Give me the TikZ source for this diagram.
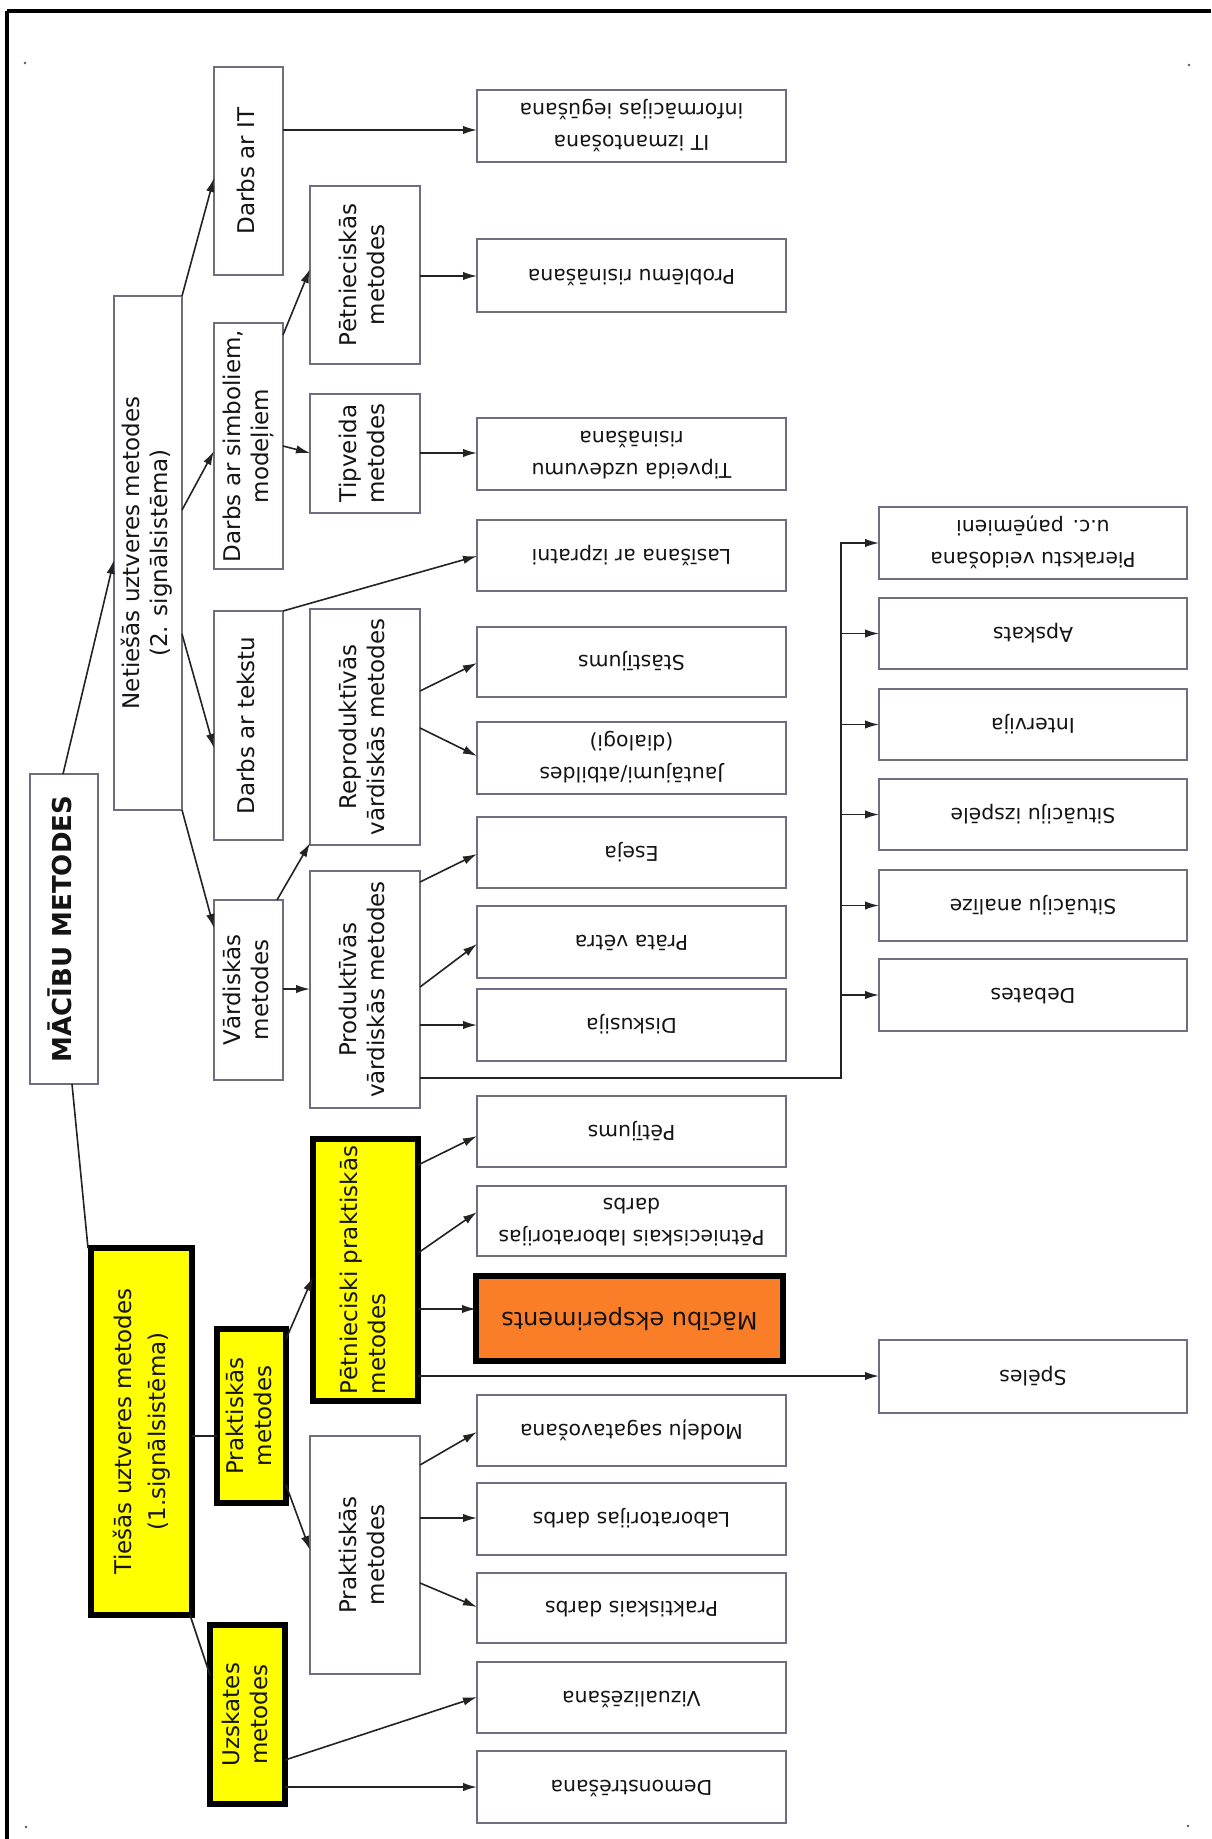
\documentclass[tikz,border=0pt]{standalone}
\usepackage{fontspec}
\setmainfont{DejaVu Sans}
\usepackage{graphicx}
\usetikzlibrary{arrows.meta}
\definecolor{bordc}{RGB}{110,110,128}
\definecolor{linec}{RGB}{35,35,35}
\definecolor{yel}{RGB}{255,255,0}
\definecolor{orng}{RGB}{250,125,40}
\definecolor{txtc}{RGB}{20,20,20}
\newcommand\lt[1]{\rotatebox{90}{\begin{tabular}{@{}c@{}}#1\end{tabular}}}
\newcommand\ltl[1]{\rotatebox{90}{\begin{tabular}{@{}l@{}}#1\end{tabular}}}
\newcommand\rt[1]{\rotatebox{180}{\begin{tabular}{@{}c@{}}#1\end{tabular}}}
\newcommand\mybox[7]{\node[#6, minimum width={(#4-#2)*0.5pt}, minimum height={(#5-#3)*0.5pt}] (#1) at ({(#2+#4)/2},{(#3+#5)/2}) {#7};}
\tikzset{
  wbox/.style={draw=bordc, line width=0.9pt, fill=white, inner sep=0pt, outer sep=0pt, text=txtc},
  ybox/.style={draw=black, line width=2.6pt, fill=yel, inner sep=0pt, outer sep=0pt, text=txtc},
  obox/.style={draw=black, line width=2.6pt, fill=orng, inner sep=0pt, outer sep=0pt, text=txtc},
  lfont/.style={font=\fontsize{11.5}{14}\selectfont},
  rfont/.style={font=\fontsize{10.2}{16}\selectfont},
  arr/.style={draw=linec, line width=0.8pt, -{Latex[length=7pt,width=4.2pt]}},
  ln/.style={draw=linec, line width=0.8pt},
}
\begin{document}
\begin{tikzpicture}[x=0.5pt,y=-0.5pt]
\useasboundingbox (0,0) rectangle (1211,1839);
\fill[white] (0,0) rectangle (1211,1839);
% frame (top and left)
\draw[line width=2pt] (7,11) -- (1211,11);
\draw[line width=2pt] (7,11) -- (7,1839);
\foreach \p in {(25,63),(1189,65),(1188,1826),(26,1827)} \fill[gray!70!black] \p circle[radius=0.7pt];

% left (rotated) nodes
\mybox{mm}{30}{774}{98}{1084}{wbox,font=\fontsize{13}{15}\selectfont\bfseries}{\lt{MĀCĪBU METODES}}
\mybox{net}{114}{296}{182}{810}{wbox,lfont}{\lt{Netiešās uztveres metodes\\(2. signālsistēma)}}
\mybox{it}{214}{67}{283}{275}{wbox,lfont}{\lt{Darbs ar IT}}
\mybox{sim}{214}{323}{283}{569}{wbox,lfont}{\lt{Darbs ar simboliem,\\modeļiem}}
\mybox{tek}{214}{611}{283}{840}{wbox,lfont}{\lt{Darbs ar tekstu}}
\mybox{var}{214}{900}{283}{1080}{wbox,lfont}{\lt{Vārdiskās\\metodes}}
\mybox{pet}{310}{186}{420}{364}{wbox,lfont}{\lt{Pētnieciskās\\metodes}}
\mybox{tip}{310}{394}{420}{513}{wbox,lfont}{\lt{Tipveida\\metodes}}
\mybox{rep}{310}{609}{420}{845}{wbox,lfont}{\lt{Reproduktīvās\\vārdiskās metodes}}
\mybox{pro}{310}{871}{420}{1108}{wbox,lfont}{\lt{Produktīvās\\vārdiskās metodes}}
\mybox{tie}{91}{1248}{192}{1615}{ybox,font=\fontsize{11.5}{17}\selectfont}{\lt{Tiešās uztveres metodes\\(1.signālsistēma)}}
\mybox{prY}{217}{1329}{286}{1503}{ybox,lfont}{\lt{Praktiskās\\metodes}}
\mybox{ppr}{313}{1139}{418}{1401}{ybox,lfont}{\ltl{Pētnieciski praktiskās\\metodes}}
\mybox{prW}{310}{1436}{420}{1674}{wbox,lfont}{\lt{Praktiskās\\metodes}}
\mybox{uzs}{210}{1625}{285}{1804}{ybox,lfont}{\lt{Uzskates\\metodes}}

% right (upside-down) nodes
\mybox{itz}{477}{90}{786}{162}{wbox,rfont}{\rt{IT izmantošana\\informācijas iegūšana}}
\mybox{prob}{477}{239}{786}{312}{wbox,rfont}{\rt{Problēmu risināšana}}
\mybox{tipu}{477}{418}{786}{490}{wbox,rfont}{\rt{Tipveida uzdevumu\\risināšana}}
\mybox{las}{477}{520}{786}{591}{wbox,rfont}{\rt{Lasīšana ar izpratni}}
\mybox{sta}{477}{627}{786}{697}{wbox,rfont}{\rt{Stāstījums}}
\mybox{jau}{477}{722}{786}{794}{wbox,rfont}{\rt{Jautājumi/atbildes\\(dialogi)}}
\mybox{ese}{477}{817}{786}{888}{wbox,rfont}{\rt{Eseja}}
\mybox{pv}{477}{906}{786}{978}{wbox,rfont}{\rt{Prāta vētra}}
\mybox{dis}{477}{989}{786}{1061}{wbox,rfont}{\rt{Diskusija}}
\mybox{ptj}{477}{1096}{786}{1167}{wbox,rfont}{\rt{Pētījums}}
\mybox{pld}{477}{1186}{786}{1256}{wbox,rfont}{\rt{Pētnieciskais laboratorijas\\darbs}}
\mybox{me}{476}{1276}{783}{1361}{obox,font=\fontsize{12}{14}\selectfont}{\rt{Mācību eksperiments}}
\mybox{mod}{477}{1395}{786}{1466}{wbox,rfont}{\rt{Modeļu sagatavošana}}
\mybox{lab}{477}{1483}{786}{1555}{wbox,rfont}{\rt{Laboratorijas darbs}}
\mybox{pd}{477}{1573}{786}{1643}{wbox,rfont}{\rt{Praktiskais darbs}}
\mybox{viz}{477}{1662}{786}{1733}{wbox,rfont}{\rt{Vizualizēšana}}
\mybox{dem}{477}{1751}{786}{1823}{wbox,rfont}{\rt{Demonstrēšana}}
\mybox{pier}{879}{507}{1187}{579}{wbox,rfont}{\rt{Pierakstu veidošana\\u.c. paņēmieni}}
\mybox{aps}{879}{598}{1187}{669}{wbox,rfont}{\rt{Apskats}}
\mybox{int}{879}{689}{1187}{760}{wbox,rfont}{\rt{Intervija}}
\mybox{siz}{879}{779}{1187}{850}{wbox,rfont}{\rt{Situāciju izspēle}}
\mybox{san}{879}{870}{1187}{941}{wbox,rfont}{\rt{Situāciju analīze}}
\mybox{deb}{879}{959}{1187}{1031}{wbox,rfont}{\rt{Debates}}
\mybox{spe}{879}{1340}{1187}{1413}{wbox,rfont}{\rt{Spēles}}

% connectors
\draw[arr] (mm.north -| 63,0) -- (net.west |- 0,560);
\draw[ln] (mm.south -| 72,0) -- (tie.north -| 88,0);
\draw[arr] (net.north east) -- (it.west |- 0,178);
\draw[arr] (net.east |- 0,510) -- (sim.west |- 0,451);
\draw[arr] (net.east |- 0,634) -- (tek.west |- 0,748);
\draw[arr] (net.south east) -- (var.west |- 0,928);
\draw[arr] (it.east |- 0,130) -- (itz.west |- 0,130);
\draw[arr] (sim.east |- 0,335) -- (pet.west |- 0,269);
\draw[arr] (sim.east |- 0,446) -- (tip.west |- 0,453);
\draw[arr] (tek.north east) -- (las.west |- 0,556);
\draw[arr] (pet.east |- 0,276) -- (prob.west |- 0,276);
\draw[arr] (tip.east |- 0,453) -- (tipu.west |- 0,453);
\draw[arr] (var.north -| 277,0) -- (rep.west |- 0,843);
\draw[arr] (var.east |- 0,989) -- (pro.west |- 0,989);
\draw[arr] (rep.east |- 0,691) -- (sta.west |- 0,663);
\draw[arr] (rep.east |- 0,728) -- (jau.west |- 0,756);
\draw[arr] (pro.east |- 0,882) -- (ese.west |- 0,854);
\draw[arr] (pro.east |- 0,987) -- (pv.west |- 0,944);
\draw[arr] (pro.east |- 0,1025) -- (dis.west |- 0,1025);
\coordinate (busT) at (841,542);
\coordinate (busB) at (841,1078);
\draw[ln] (pro.east |- busB) -- (busB) -- (busT);
\foreach \t in {pier,aps,int,siz,san,deb} \draw[arr] (busB |- \t.west) -- (\t.west);
\draw[arr] (ppr.east |- 0,1165) -- (ptj.west |- 0,1136);
\draw[arr] (ppr.east |- 0,1253) -- (pld.west |- 0,1212);
\draw[arr] (ppr.east |- 0,1309) -- (me.west |- 0,1309);
\draw[arr] (ppr.east |- 0,1376) -- (spe.west |- 0,1376);
\draw[ln] (tie.east |- 0,1436) -- (prY.west |- 0,1436);
\draw[ln] (tie.south -| 190,0) -- (uzs.west |- 0,1675);
\draw[arr] (prY.east |- 0,1339) -- (ppr.west |- 0,1277);
\draw[arr] (prY.east |- 0,1485) -- (prW.west |- 0,1550);
\draw[arr] (prW.east |- 0,1465) -- (mod.west |- 0,1432);
\draw[arr] (prW.east |- 0,1518) -- (lab.west |- 0,1518);
\draw[arr] (prW.east |- 0,1583) -- (pd.west |- 0,1607);
\draw[arr] (uzs.east |- 0,1760) -- (viz.west |- 0,1697);
\draw[arr] (uzs.east |- 0,1787) -- (dem.west |- 0,1787);
\end{tikzpicture}
\end{document}
